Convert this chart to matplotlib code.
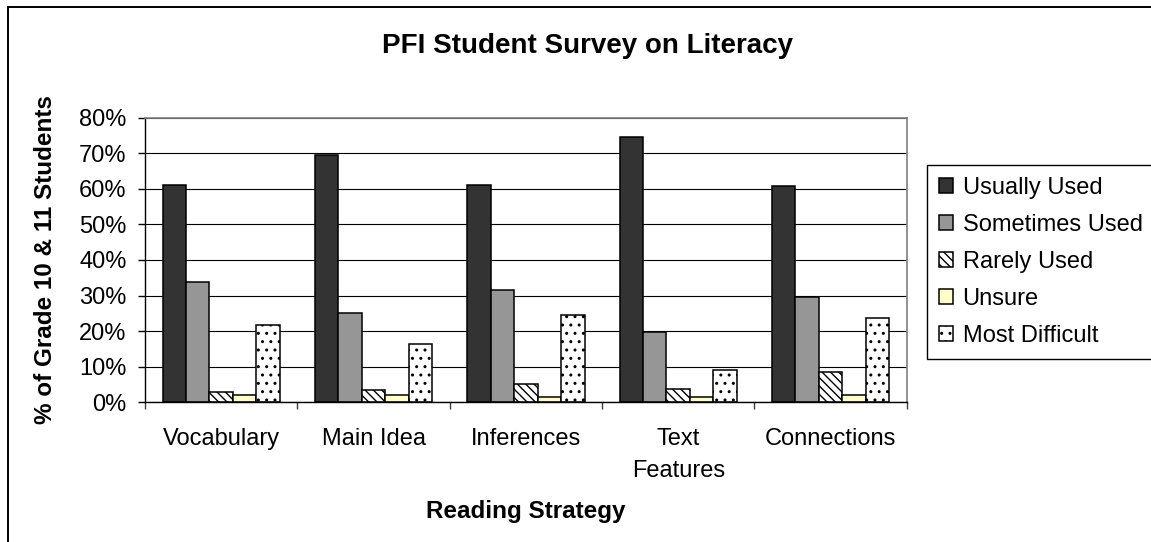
import matplotlib
matplotlib.use("Agg")
import matplotlib.pyplot as plt
from matplotlib.patches import Rectangle
from matplotlib.ticker import FuncFormatter
import numpy as np

plt.rcParams['font.family'] = ['Liberation Sans', 'DejaVu Sans']
plt.rcParams['hatch.linewidth'] = 1.0

# Survey results (% of grade 10 & 11 students)
categories = ["Vocabulary", "Main Idea", "Inferences", "Text\nFeatures", "Connections"]
series_names = ["Usually Used", "Sometimes Used", "Rarely Used", "Unsure", "Most Difficult"]
usually_used = [61.2, 69.5, 61.2, 74.7, 60.8]
sometimes_used = [33.8, 25.0, 31.7, 19.7, 29.5]
rarely_used = [2.8, 3.4, 5.2, 3.8, 8.6]
unsure = [2.0, 2.0, 1.4, 1.4, 2.0]
most_difficult = [21.6, 16.4, 24.5, 9.2, 23.7]
y_ticks = [0, 10, 20, 30, 40, 50, 60, 70, 80]

series_values = [usually_used, sometimes_used, rarely_used, unsure, most_difficult]
face_colors = ['#333333', '#969696', '#ffffff', '#ffffcc', '#ffffff']
hatches = [None, None, '\\\\\\\\', None, '..']

W, H, DPI = 1151, 542, 100
fig = plt.figure(figsize=(W / DPI, H / DPI), dpi=DPI)
fig.patch.set_facecolor('white')

# plot area in pixel terms
left, right, top, bottom = 145, 906.7, 117.7, 402.3
ax = fig.add_axes([left / W, 1 - bottom / H, (right - left) / W, (bottom - top) / H])

x = np.arange(len(categories))
bar_w = 0.154
handles = []
for i, (vals, fc, ht) in enumerate(zip(series_values, face_colors, hatches)):
    bars = ax.bar(x + (i - 2) * bar_w, vals, width=bar_w, color=fc,
                  edgecolor='black', linewidth=1.1, hatch=ht, zorder=2)
    handles.append(bars)

ax.set_xlim(-0.5, len(categories) - 0.5)
ax.set_ylim(0, 80)
ax.set_yticks(y_ticks)
ax.yaxis.set_major_formatter(FuncFormatter(lambda v, p: f"{v:.0f}%"))
ax.tick_params(axis='y', direction='out', length=4.8, width=1.0, pad=8.4,
               labelsize=17, color='black')

ax.set_xticks(x)
ax.set_xticklabels(categories, linespacing=1.6)
ax.tick_params(axis='x', which='major', length=0, pad=18.5, labelsize=17)
ax.set_xticks(np.arange(-0.5, len(categories), 1.0), minor=True)
ax.tick_params(axis='x', which='minor', direction='out', length=4.8, width=1.0,
               color='#404040')

ax.yaxis.grid(True, color='black', linewidth=0.8)
ax.set_axisbelow(True)

for side in ('top', 'right'):
    ax.spines[side].set_color('#808080')
    ax.spines[side].set_linewidth(1.2)
for side in ('left', 'bottom'):
    ax.spines[side].set_color('black')
    ax.spines[side].set_linewidth(1.0)

ax.set_xlabel("Reading Strategy", fontsize=17.5, fontweight='bold')
ax.xaxis.set_label_coords(0.5, (bottom - 518.3) / (bottom - top))
ax.xaxis.label.set_va('baseline')

ax.set_ylabel("% of Grade 10 & 11 Students", fontsize=17.5, fontweight='bold')
ax.yaxis.set_label_coords((46 - left) / (right - left), 0.5)
ax.yaxis.label.set_va('center')

fig.text(587 / W, 1 - 53 / H, "PFI Student Survey on Literacy", ha='center',
         va='baseline', fontsize=20, fontweight='bold')

leg = fig.legend(handles, series_names, loc='upper left',
                 bbox_to_anchor=(926.7 / W, 1 - 165 / H), bbox_transform=fig.transFigure,
                 fontsize=17, frameon=True, fancybox=False, framealpha=1,
                 edgecolor='black', handlelength=0.6, handleheight=0.6,
                 handletextpad=0.42, borderpad=0.5, labelspacing=0.64,
                 borderaxespad=0)
leg.get_frame().set_linewidth(1.0)

# chart-area frame
fig.add_artist(Rectangle((8 / W, -0.5), 2.0, (1 - 7 / H) + 0.5,
                         transform=fig.transFigure, fill=False,
                         edgecolor='black', linewidth=1.4, clip_on=False))

fig.savefig('out.png', dpi=DPI)
